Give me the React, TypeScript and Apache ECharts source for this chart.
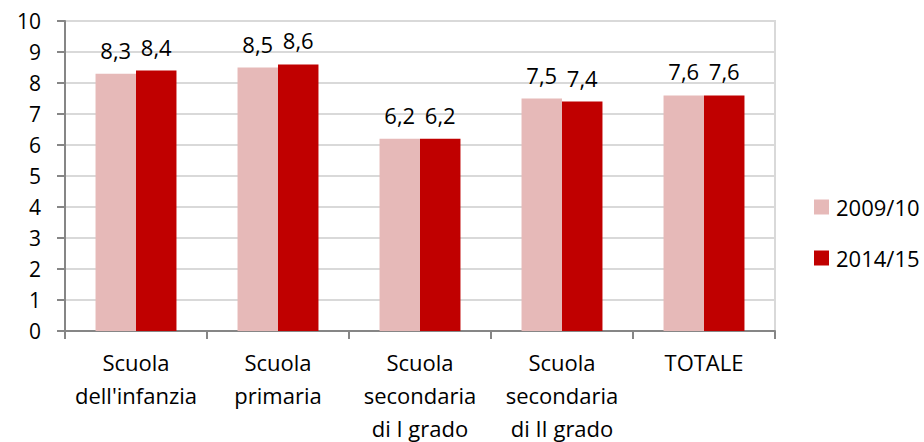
import React, { useEffect, useRef } from "react";
import * as echarts from "echarts";

const categories = [
  "Scuola\ndell'infanzia",
  "Scuola\nprimaria",
  "Scuola\nsecondaria\ndi I grado",
  "Scuola\nsecondaria\ndi II grado",
  "TOTALE",
];
const series2009 = [8.3, 8.5, 6.2, 7.5, 7.6];
const series2014 = [8.4, 8.6, 6.2, 7.4, 7.6];
const seriesNames = ["2009/10", "2014/15"];

const FONT = "'Open Sans', 'Liberation Sans', sans-serif";

export default function App() {
  const ref = useRef<HTMLDivElement>(null);
  useEffect(() => {
    if (!ref.current) return;
    const chart = echarts.init(ref.current, null, { renderer: "svg" });
    const labelFmt = (p: any) => String(p.value).replace(".", ",");
    const dataLabel = {
      show: true,
      position: "top",
      distance: 13,
      fontSize: 22,
      color: "#000",
      fontFamily: FONT,
      formatter: labelFmt,
    };
    chart.setOption({
      animation: false,
      backgroundColor: "#ffffff",
      textStyle: { fontFamily: FONT },
      grid: {
        left: 65,
        right: 149,
        top: 21,
        bottom: 111,
        containLabel: false,
        outerBoundsMode: "none",
        show: true,
        borderColor: "#d9d9d9",
        borderWidth: 2,
      },
      legend: {
        orient: "vertical",
        left: 809,
        top: 190,
        itemWidth: 15,
        itemHeight: 15,
        itemGap: 27,
        icon: "rect",
        textStyle: { fontSize: 22, lineHeight: 24, color: "#000", fontFamily: FONT, padding: [0, 0, 0, 2] },
        data: seriesNames,
      },
      xAxis: {
        type: "category",
        data: categories,
        axisLine: { lineStyle: { color: "#868686", width: 2 } },
        axisTick: { show: true, length: 8, alignWithLabel: false, lineStyle: { color: "#868686", width: 2 } },
        axisLabel: {
          fontSize: 22,
          color: "#000",
          lineHeight: 33,
          margin: 14,
          interval: 0,
          fontFamily: FONT,
        },
      },
      yAxis: {
        type: "value",
        min: 0,
        max: 10,
        interval: 1,
        axisLine: { show: true, lineStyle: { color: "#868686", width: 2 } },
        axisTick: { show: true, length: 8, lineStyle: { color: "#868686", width: 2 } },
        axisLabel: { fontSize: 21, color: "#000", margin: 24, fontFamily: FONT },
        splitLine: { lineStyle: { color: "#d9d9d9", width: 2 } },
      },
      series: [
        {
          name: seriesNames[0],
          type: "bar",
          data: series2009,
          barGap: "0%",
          barCategoryGap: "43%",
          itemStyle: { color: "#e6b9b8" },
          label: dataLabel,
        },
        {
          name: seriesNames[1],
          type: "bar",
          data: series2014,
          itemStyle: { color: "#c00000" },
          label: dataLabel,
        },
      ],
    });
    return () => chart.dispose();
  }, []);
  return <div ref={ref} style={{ width: 924, height: 442, position: "absolute", left: 0, top: 0 }} />;
}
